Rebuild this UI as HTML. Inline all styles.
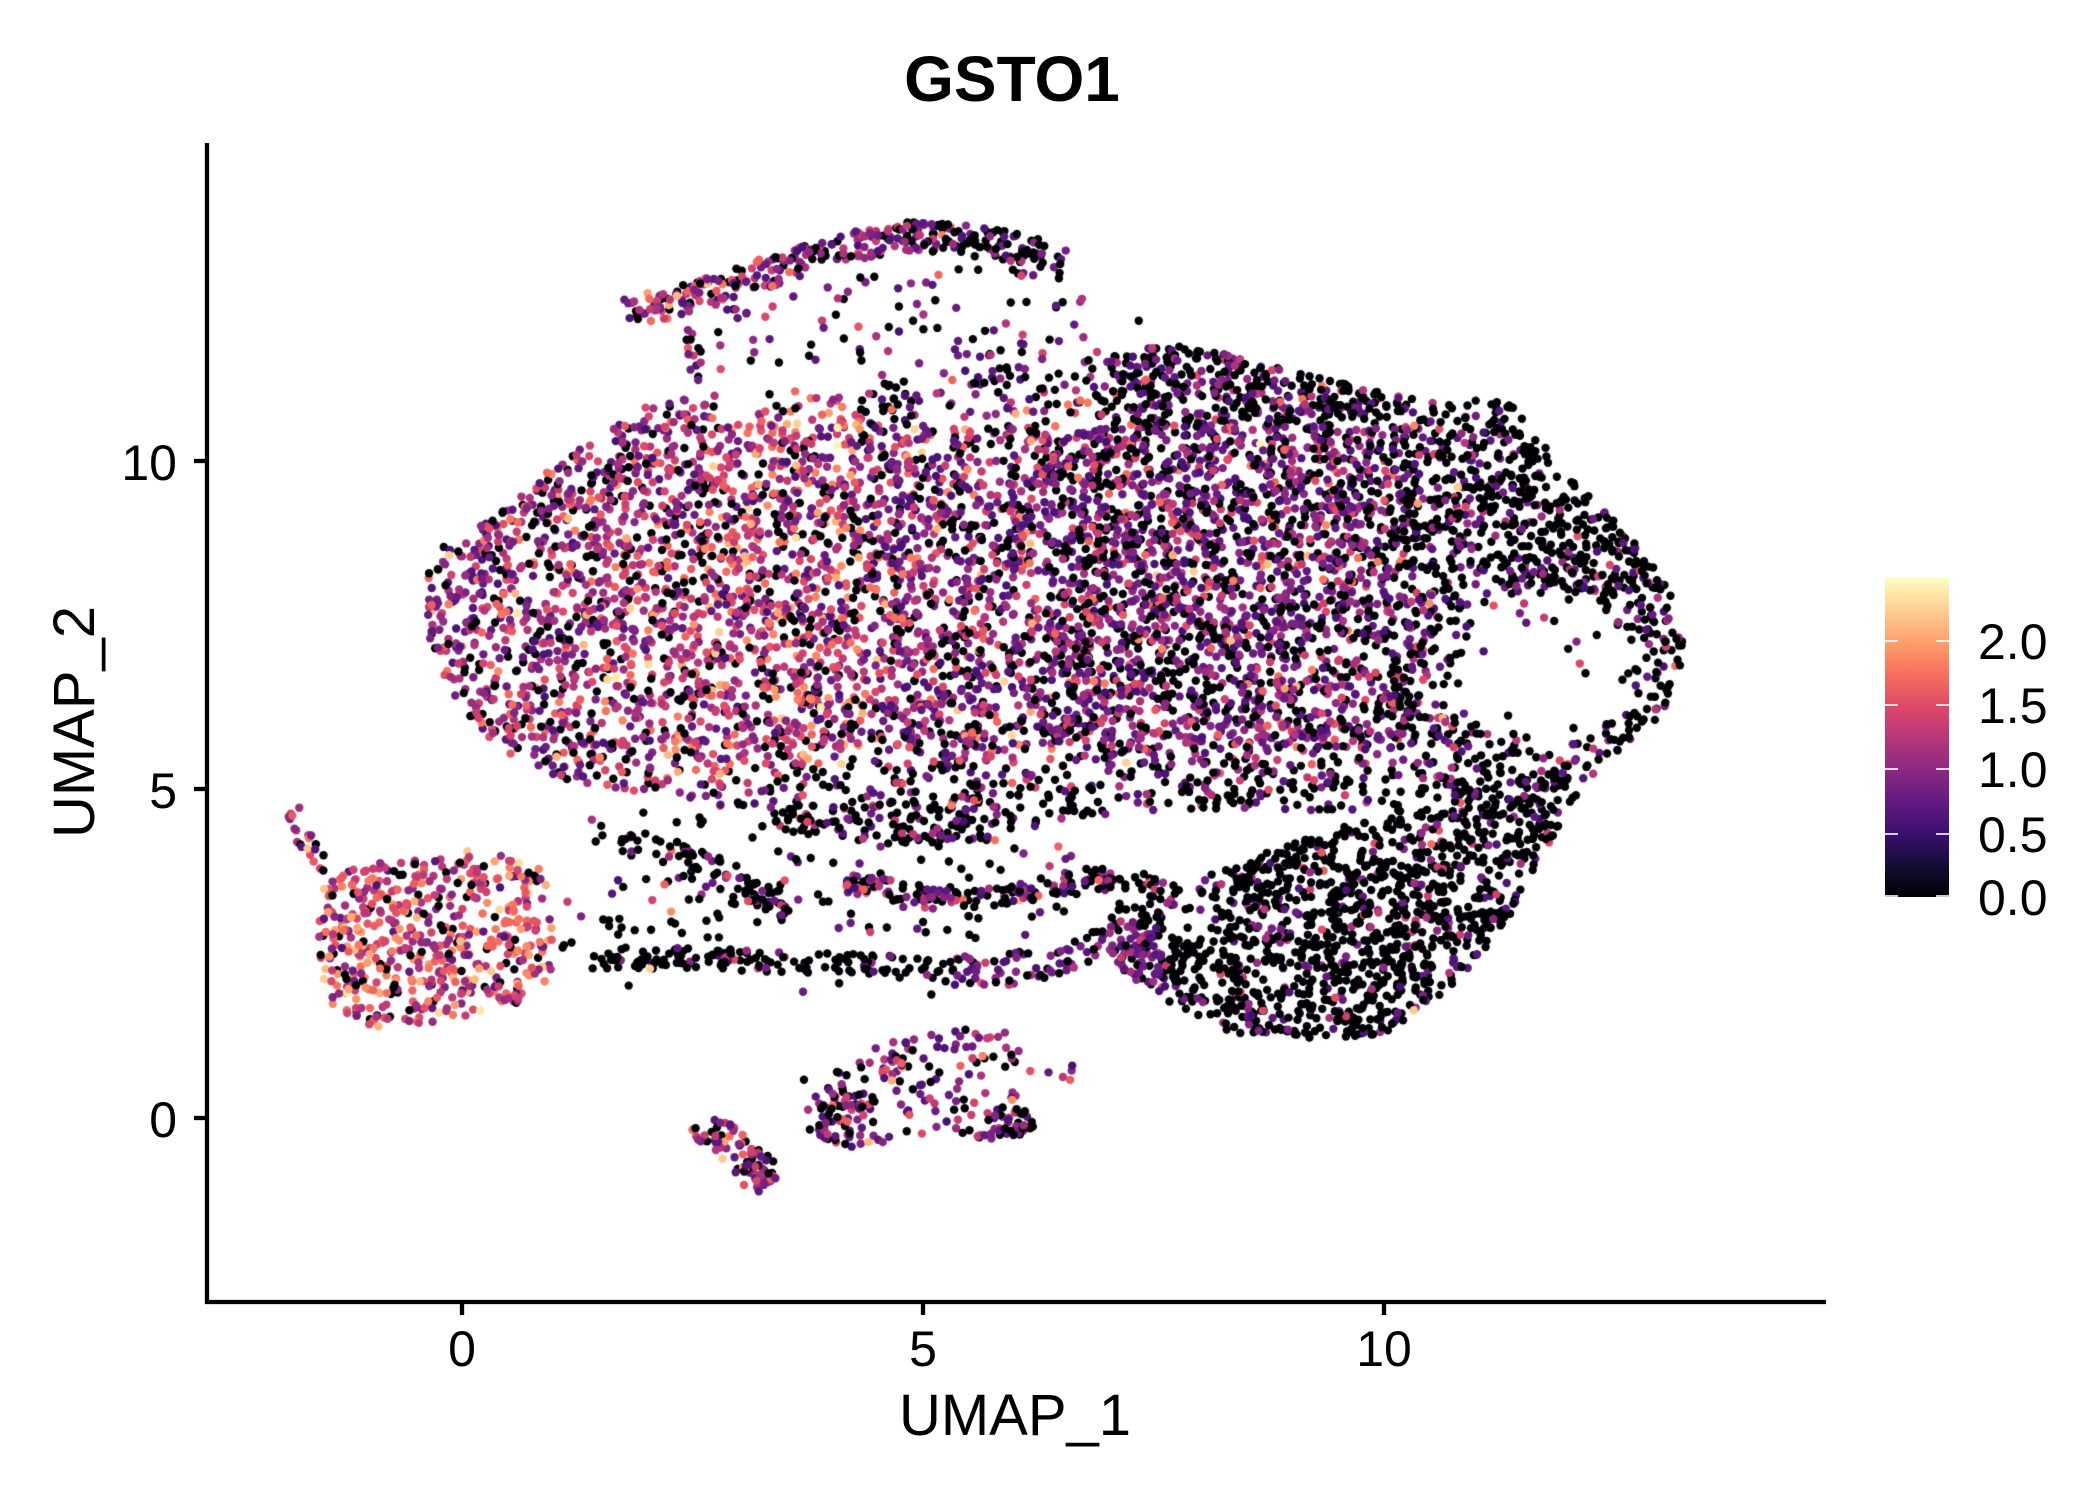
<!DOCTYPE html>
<html>
<head>
<meta charset="utf-8">
<style>
html,body{margin:0;padding:0;background:#fff;}
#wrap{position:relative;width:2100px;height:1500px;overflow:hidden;background:#fff;}
#c{position:absolute;left:0;top:0;}
#ov{position:absolute;left:0;top:0;}
text{font-family:"Liberation Sans",Arial,sans-serif;fill:#000;}
</style>
</head>
<body>
<div id="wrap">
<canvas id="c" width="2100" height="1500"></canvas>
<svg id="ov" width="2100" height="1500" viewBox="0 0 2100 1500" xmlns="http://www.w3.org/2000/svg">
  <defs>
    <linearGradient id="mg" x1="0" y1="1" x2="0" y2="0">
      <stop offset="0" stop-color="#000004"/>
      <stop offset="0.1" stop-color="#140E36"/>
      <stop offset="0.2" stop-color="#3B0F70"/>
      <stop offset="0.3" stop-color="#641A80"/>
      <stop offset="0.4" stop-color="#8C2981"/>
      <stop offset="0.5" stop-color="#B73779"/>
      <stop offset="0.6" stop-color="#DE4968"/>
      <stop offset="0.7" stop-color="#F7705C"/>
      <stop offset="0.8" stop-color="#FE9F6D"/>
      <stop offset="0.9" stop-color="#FECF92"/>
      <stop offset="1" stop-color="#FCFDBF"/>
    </linearGradient>
  </defs>
  <text x="1012" y="101" text-anchor="middle" font-size="64" font-weight="bold">GSTO1</text>
  <line x1="207" y1="143" x2="207" y2="1304" stroke="#000" stroke-width="4.3"/>
  <line x1="205" y1="1302" x2="1826" y2="1302" stroke="#000" stroke-width="4.3"/>
  <line x1="194" y1="461" x2="207" y2="461" stroke="#000" stroke-width="4.3"/>
  <line x1="194" y1="789" x2="207" y2="789" stroke="#000" stroke-width="4.3"/>
  <line x1="194" y1="1118" x2="207" y2="1118" stroke="#000" stroke-width="4.3"/>
  <line x1="462" y1="1302" x2="462" y2="1315" stroke="#000" stroke-width="4.3"/>
  <line x1="923" y1="1302" x2="923" y2="1315" stroke="#000" stroke-width="4.3"/>
  <line x1="1384" y1="1302" x2="1384" y2="1315" stroke="#000" stroke-width="4.3"/>
  <text x="177" y="480" text-anchor="end" font-size="50">10</text>
  <text x="177" y="808" text-anchor="end" font-size="50">5</text>
  <text x="177" y="1137" text-anchor="end" font-size="50">0</text>
  <text x="462" y="1366" text-anchor="middle" font-size="50">0</text>
  <text x="923" y="1366" text-anchor="middle" font-size="50">5</text>
  <text x="1384" y="1366" text-anchor="middle" font-size="50">10</text>
  <text x="1015" y="1435" text-anchor="middle" font-size="58">UMAP_1</text>
  <text transform="translate(94,722) rotate(-90)" text-anchor="middle" font-size="58">UMAP_2</text>
  <rect x="1885" y="578" width="64" height="319" fill="url(#mg)"/>
  <g stroke="#fff" stroke-width="1.6">
    <line x1="1885" y1="641" x2="1898" y2="641"/><line x1="1936" y1="641" x2="1949" y2="641"/>
    <line x1="1885" y1="705" x2="1898" y2="705"/><line x1="1936" y1="705" x2="1949" y2="705"/>
    <line x1="1885" y1="769" x2="1898" y2="769"/><line x1="1936" y1="769" x2="1949" y2="769"/>
    <line x1="1885" y1="834" x2="1898" y2="834"/><line x1="1936" y1="834" x2="1949" y2="834"/>
    <line x1="1885" y1="896" x2="1898" y2="896"/><line x1="1936" y1="896" x2="1949" y2="896"/>
  </g>
  <text x="1978" y="659" font-size="50">2.0</text>
  <text x="1978" y="723" font-size="50">1.5</text>
  <text x="1978" y="787" font-size="50">1.0</text>
  <text x="1978" y="852" font-size="50">0.5</text>
  <text x="1978" y="915" font-size="50">0.0</text>
</svg>
</div>
<script>
(function(){
var S=1.338, LAM=0.021, R=4.2;
var seed=123456789;
function rnd(){seed^=seed<<13;seed^=seed>>>17;seed^=seed<<5;return (seed>>>0)/4294967296;}
function gauss(){var u=rnd();if(u<1e-9)u=1e-9;return Math.sqrt(-2*Math.log(u))*Math.cos(6.2831853*rnd());}
function val(p0,mu,sd){if(rnd()<p0)return 0;var v=mu+gauss()*(sd||0.42);if(v<0.55)v=0.55+rnd()*0.25;if(v>2.46)v=2.2+rnd()*0.26;return v;}
var pts=[];
function inPoly(x,y,P){var c=false;for(var i=0,j=P.length-1;i<P.length;j=i++){var xi=P[i][0],yi=P[i][1],xj=P[j][0],yj=P[j][1];if(((yi>y)!=(yj>y))&&(x<(xj-xi)*(y-yi)/(yj-yi)+xi))c=!c;}return c;}
function poly(P,lam,dens,col){var x0=1e9,x1=-1e9,y0=1e9,y1=-1e9;for(var i=0;i<P.length;i++){x0=Math.min(x0,P[i][0]);x1=Math.max(x1,P[i][0]);y0=Math.min(y0,P[i][1]);y1=Math.max(y1,P[i][1]);}
 var n=Math.round((x1-x0)*(y1-y0)*S*S*lam);
 for(var k=0;k<n;k++){var x=x0+rnd()*(x1-x0),y=y0+rnd()*(y1-y0);if(!inPoly(x,y,P))continue;if(rnd()>dens(x,y))continue;pts.push([x*S,y*S,col(x,y)]);}}
function ell(cx,cy,rx,ry,n,col){for(var k=0;k<n;k++){var a=rnd()*6.2831853,r=Math.sqrt(rnd());var x=cx+rx*r*Math.cos(a),y=cy+ry*r*Math.sin(a);pts.push([x*S,y*S,col(x,y)]);}}
function strand(P,hw,n,col){var L=[],T=0;for(var i=1;i<P.length;i++){var d=Math.hypot(P[i][0]-P[i-1][0],P[i][1]-P[i-1][1]);L.push(d);T+=d;}
 for(var k=0;k<n;k++){var s=rnd()*T,i=0;while(i<L.length-1&&s>L[i]){s-=L[i];i++;}var t=Math.min(1,s/L[i]);
  var ax=P[i][0],ay=P[i][1],bx=P[i+1][0],by=P[i+1][1];var dx=(bx-ax)/L[i],dy=(by-ay)/L[i];var o=(rnd()*2-1)*hw;
  var x=ax+(bx-ax)*t-dy*o,y=ay+(by-ay)*t+dx*o;pts.push([x*S,y*S,col(x,y)]);}}
function C(p0,mu,sd){return function(){return val(p0,mu,sd);};}

var MB=[[318,445],[322,418],[338,402],[360,390],[385,375],[410,352],[432,335],[458,320],[480,305],[505,298],[540,294],[580,292],[620,290],[660,284],[700,278],[740,274],[780,274],[820,268],[860,260],[895,257],[930,268],[970,279],[1010,287],[1045,296],[1080,302],[1105,296],[1130,302],[1145,322],[1162,342],[1182,362],[1202,385],[1222,405],[1240,428],[1252,447],[1258,470],[1257,500],[1250,522],[1235,542],[1215,557],[1198,572],[1180,588],[1150,592],[1100,595],[1050,602],[1000,607],[950,606],[900,604],[860,606],[820,612],[780,620],[750,630],[710,633],[660,634],[620,630],[585,620],[555,607],[520,598],[480,592],[450,588],[420,582],[395,573],[372,558],[352,538],[335,512],[322,485]];
function dMain(x,y){
 var hx=(x-1152)/62,hy=(y-500)/60,h=hx*hx+hy*hy;
 if(h<1)return 0.05;
 var d=0.72;
 if(x>780&&x<1060)d=0.95;
 if(x>=1060)d=h<1.7?0.4:0.7;
 if(x>1125&&y>362&&y<445)d=0.95;
 if(y>560&&x>430&&x<1060)d=0.45;
 if(y>598&&x>560&&x<745)d=0.8;
 if(y<318&&x>515&&x<830)d=0.45;
 return d;
}
function cMain(x,y){var xx=x+gauss()*30,p0,mu;
 if(xx<470){p0=0.22;mu=1.12;}else if(xx<640){p0=0.17;mu=1.28;}else if(xx<790){p0=0.25;mu=1.05;}else if(xx<1060){p0=0.35;mu=0.92;}else{p0=0.72;mu=0.8;}
 if(y>572&&x>540&&x<1060){p0=Math.max(p0,0.62);mu=Math.min(mu,0.9);}
 if(y<318&&x>650){p0=Math.max(p0,0.5);mu=Math.min(mu,0.9);}
 if(x>1110&&y<450)p0=Math.max(p0,0.8);
 return val(p0,mu,0.45);}
poly(MB,LAM,dMain,cMain);

var ARCH=[[468,234],[485,229],[505,226],[530,218],[560,208],[590,198],[620,188],[650,181],[680,176],[710,178],[740,182],[770,187],[795,195]];
strand(ARCH,11,330,function(x,y){if(x<600)return val(0.18,1.12);if(x<700)return val(0.32,0.92);return val(0.62,0.8);});
poly([[515,240],[560,225],[620,210],[680,196],[740,196],[800,205],[830,235],[830,265],[760,272],[700,276],[620,288],[540,292],[515,280]],LAM,function(){return 0.12;},C(0.45,1.0));
strand([[515,240],[518,260],[522,288]],6,12,C(0.3,1.1));
ell(812,222,6,6,2,C(0.8,0.8));ell(850,237,4,4,1,C(1,0.8));

var LR=[[840,670],[880,660],[920,648],[960,632],[1000,618],[1040,605],[1080,598],[1120,592],[1160,575],[1185,585],[1170,610],[1152,640],[1140,665],[1125,690],[1105,715],[1085,738],[1060,758],[1035,772],[1010,778],[985,778],[955,775],[925,772],[900,765],[878,752],[858,740],[840,725],[825,705],[825,685]];
poly(LR,LAM,function(x,y){return (x<905&&y<705)?0.45:0.9;},function(x,y){if(x<875&&y>690)return val(0.4,0.85,0.3);return val(0.83,0.85,0.35);});

strand([[462,628],[490,634],[520,643],[548,656],[578,674],[592,680]],10,85,C(0.78,0.9));
strand([[442,716],[500,716],[560,718],[620,720],[660,722],[712,726]],8,150,C(0.85,0.85));
strand([[712,727],[740,726],[770,722],[800,714],[830,706],[862,698]],12,105,C(0.22,0.85,0.3));
strand([[632,662],[660,664],[690,668],[720,672],[750,670],[785,662],[815,656],[852,660],[880,668]],8,135,C(0.6,0.9));
ell(645,662,12,8,18,C(0.2,1.25));
ell(700,672,14,9,18,C(0.3,0.85));
ell(760,668,12,10,15,C(0.35,0.9));
poly([[440,600],[560,610],[600,640],[600,700],[445,705]],LAM,function(){return 0.1;},C(0.7,0.9));
poly([[590,640],[840,630],[840,700],[700,708],[595,700]],LAM,function(){return 0.1;},C(0.65,0.9));
poly([[440,728],[720,735],[720,745],[440,738]],LAM,function(){return 0.15;},C(0.6,0.9));

var LC=[[240,662],[262,650],[290,643],[320,638],[350,636],[380,640],[405,648],[413,665],[414,700],[412,725],[405,742],[385,750],[360,757],[335,762],[310,768],[285,768],[262,762],[248,750],[240,730],[238,700]];
poly(LC,LAM,function(){return 0.72;},C(0.11,1.42,0.45));
strand([[218,603],[222,615],[228,628],[236,640],[245,650]],6,22,C(0.15,1.3));
ell(428,690,10,30,5,C(0.4,1.0));

strand([[518,833],[535,848],[552,862],[565,875],[572,888]],13,60,C(0.22,1.05));
ell(568,874,13,13,35,C(0.2,1.0));
poly([[598,808],[620,800],[640,790],[660,778],[690,770],[720,766],[745,770],[772,774],[778,800],[772,830],[770,850],[745,852],[710,850],[680,852],[650,860],[625,862],[605,852],[600,830]],LAM,function(){return 0.3;},C(0.28,1.0));
ell(628,835,18,20,40,C(0.25,1.0));
ell(755,838,18,12,32,C(0.3,1.0));
ell(668,798,10,10,13,C(0.15,1.3));
ell(795,800,12,10,5,C(0.4,1.0));

for(var i=pts.length-1;i>0;i--){var j=Math.floor(rnd()*(i+1));var t=pts[i];pts[i]=pts[j];pts[j]=t;}
var M=[[0,0,4],[20,14,54],[59,15,112],[100,26,128],[140,41,129],[183,55,121],[222,73,104],[247,112,92],[254,159,109],[254,207,146],[252,253,191]];
function mag(v){var t=Math.max(0,Math.min(1,v/2.484))*10;var i=Math.min(9,Math.floor(t)),f=t-i;var a=M[i],b=M[i+1];
 return 'rgb('+Math.round(a[0]+(b[0]-a[0])*f)+','+Math.round(a[1]+(b[1]-a[1])*f)+','+Math.round(a[2]+(b[2]-a[2])*f)+')';}
var ctx=document.getElementById('c').getContext('2d');
ctx.fillStyle='#fff';ctx.fillRect(0,0,2100,1500);
for(var k=0;k<pts.length;k++){var p=pts[k];ctx.fillStyle=mag(p[2]);ctx.beginPath();ctx.arc(p[0],p[1],R,0,6.2831853);ctx.fill();}
})();
</script>
</body>
</html>
